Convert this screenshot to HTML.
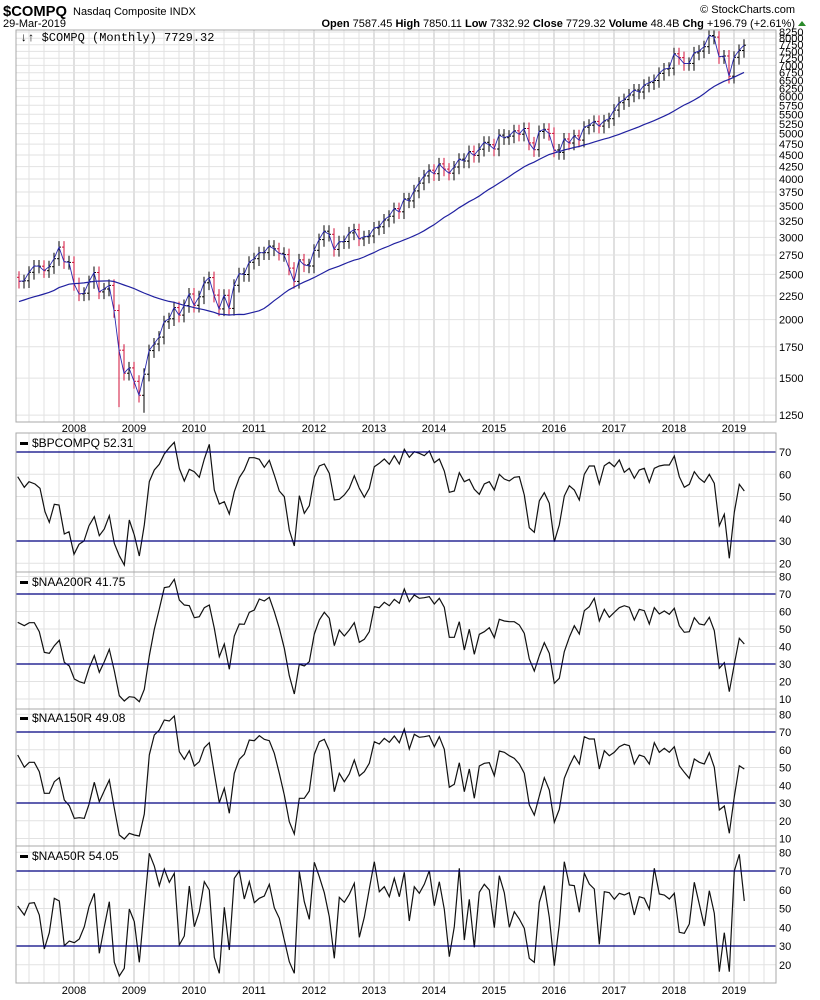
<!DOCTYPE html>
<html><head><meta charset="utf-8">
<style>
body{margin:0;background:#fff;width:820px;height:1000px;overflow:hidden;font-family:"Liberation Sans",sans-serif;}
svg{display:block}
</style></head><body>
<svg id="c" width="820" height="1000" xmlns="http://www.w3.org/2000/svg" font-family="Liberation Sans, sans-serif">
<text x="3" y="16" font-size="15" font-weight="bold" textLength="64" lengthAdjust="spacingAndGlyphs">$COMPQ</text>
<text x="73" y="15" font-size="11">Nasdaq Composite INDX</text>
<text x="3" y="27" font-size="11">29-Mar-2019</text>
<text x="795" y="13" font-size="11" text-anchor="end">© StockCharts.com</text>
<text x="795" y="27" font-size="11" text-anchor="end"><tspan font-weight="bold">Open</tspan> 7587.45 <tspan font-weight="bold">High</tspan> 7850.11 <tspan font-weight="bold">Low</tspan> 7332.92 <tspan font-weight="bold">Close</tspan> 7729.32 <tspan font-weight="bold">Volume</tspan> 48.4B <tspan font-weight="bold">Chg</tspan> +196.79 (+2.61%)</text>
<polygon points="798,26 806,26 802,21" fill="#2a8a2a"/>
<g id="g"></g>
</svg>
<script>
var g=document.getElementById('g'),h='';
function L(x1,y1,x2,y2,c,w){h+='<line x1="'+x1+'" y1="'+y1+'" x2="'+x2+'" y2="'+y2+'" stroke="'+c+'" stroke-width="'+(w||1)+'"/>';}
function T(x,y,t,s,a){h+='<text x="'+x+'" y="'+y+'" font-size="'+(s||11)+'"'+(a?' text-anchor="'+a+'"':'')+'>'+t+'</text>';}
var X0=16,X1=776;
var panels=[[30,422],[433,572],[572,709],[709,846],[846,983]];
function xi(i){return 19+i*5;}
panels.forEach(function(p){
 for(var i=0;i<146;i++){var m=(i+1)%12; if(m%3==0){L(xi(i),p[0],xi(i),p[1],(m==0)?'#c0c0c0':'#e2e2e2');}}
 for(var x=xi(146);x<X1;x+=15){L(x,p[0],x,p[1],'#e2e2e2');}
});
function yp(v){return 32+203*Math.log(8250/v);}
for(var v=1250;v<=8250;v+=250){var y=yp(v);L(X0,y,X1,y,'#e2e2e2');T(779,y+4,v,11);}
var sub=[[452,2.225,[20,30,40,50,60,70]],[594,1.75,[10,20,30,40,50,60,70,80]],[732,1.775,[10,20,30,40,50,60,70,80]],[871,1.875,[20,30,40,50,60,70,80]]];
sub.forEach(function(s,k){s[2].forEach(function(v){var y=s[0]+(70-v)*s[1];if(v!=30&&v!=70)L(X0,y,X1,y,'#e2e2e2');T(779,y+4,v,11);});});
var pre=[1897,1975,2097,2175,2062,2052,1999,1922,2068,2057,2185,2152,2152,2120,2233,2205,2306,2281,2340,2323,2179,2172,2091,2184,2258,2367,2432,2415,2464];
var d=[2416,2422,2525,2605,2603,2546,2596,2701,2859,2661,2652,
2389,2271,2279,2413,2523,2293,2326,2368,2092,1721,1536,1577,
1476,1378,1529,1717,1774,1835,1979,2009,2122,2045,2145,2269,
2147,2238,2398,2461,2257,2109,2255,2114,2369,2507,2498,2653,
2700,2782,2781,2874,2835,2774,2756,2579,2415,2684,2620,2605,
2814,2967,3092,3046,2827,2935,2940,3067,3116,2977,3010,3020,
3142,3160,3268,3329,3456,3403,3626,3590,3771,3920,4060,4177,
4104,4308,4199,4115,4243,4408,4370,4580,4493,4631,4792,4736,
4635,4964,4901,4941,5070,4987,5128,4777,4620,5054,5109,5007,
4614,4558,4870,4775,4948,4843,5162,5213,5312,5189,5324,5383,
5615,5825,5912,6048,6199,6140,6348,6429,6496,6728,6874,6903,
7411,7273,7063,7066,7442,7510,7672,8110,8046,7306,7331,6635,
7282,7533,7729];
var all=pre.concat(d),ma='',cl='';
for(var i=0;i<d.length;i++){
 var k=i+29,s=0;for(var j=k-29;j<=k;j++)s+=all[j];var m=s/30;
 ma+=(i?' ':'')+xi(i)+','+yp(m).toFixed(1);
 var c=d[i],o=all[k-1],hi=Math.max(o,c)*1.03,lo=Math.min(o,c)*0.965;
 if(i==20)lo=1300; if(i==25)lo=1265;
 var col=c<o*0.985?'#d0103a':'#000';x=xi(i);
 L(x,yp(hi).toFixed(1),x,yp(lo).toFixed(1),col);L(x-2,yp(o).toFixed(1),x,yp(o).toFixed(1),col);L(x,yp(c).toFixed(1),x+2,yp(c).toFixed(1),col);
 cl+=(i?' ':'')+x+','+yp(c).toFixed(1);
}
h+='<polyline points="'+ma+'" fill="none" stroke="#2020a0" stroke-width="1.2"/>';
h+='<polyline points="'+cl+'" fill="none" stroke="#2a2ab0" stroke-width="0.9"/>';
function P(a,ox,oy){var s='';for(var i=0;i<a.length;i+=2){s+=(ox+a[i]/3).toFixed(1)+','+(oy+a[i+1]/3).toFixed(1)+' ';}return s;}
function line(a1,o1,a2,o2){h+='<polyline points="'+P(a1,o1[0],o1[1])+P(a2,o2[0],o2[1])+'" fill="none" stroke="#111" stroke-width="1.2"/>';}
var bp1=[8,125,28,157,42,140,60,147,75,160,90,230,103,262,118,208,132,210,148,297,162,290,177,358,192,328,207,318,222,272,238,245,253,302,268,282,283,242,298,325,313,362,328,390,343,255,358,300,373,363,388,270,403,140,418,105,433,88,448,57,463,38,478,22,493,100,508,138,523,103,538,110,553,127,568,72,583,28,598,165,613,207,628,200,643,237,658,170,673,128,688,105,703,68,718,68,733,73,748,97,763,76,778,120,793,168,808,185,823,285,838,333,853,182,868,235,883,212,898,127,913,93,928,87,943,115,958,195,973,193,988,180,1003,160,1018,122,1033,160,1048,187,1063,160,1078,95,1093,85,1108,72,1123,88];
var bp2=[13,62,28,87,43,43,58,67,73,50,88,55,103,62,118,48,133,83,148,72,163,108,178,172,193,168,208,113,223,140,238,133,253,163,268,178,283,147,298,140,313,165,328,118,343,132,358,138,373,127,388,125,403,180,418,278,433,292,448,198,463,173,478,205,493,320,508,270,523,183,538,152,553,165,568,195,583,118,598,93,613,93,628,147,643,92,658,82,673,95,688,75,703,112,718,100,733,130,748,105,763,100,778,142,793,100,808,93,823,90,838,90,853,63,868,125,883,157,898,148,913,110,928,130,943,142,958,118,973,145,988,272,1003,238,1018,370,1033,232,1048,148,1063,168];
var n2a=[8,562,28,572,43,563,58,563,73,590,88,652,103,655,118,632,133,616,148,682,163,693,178,732,193,740,208,745,222,700,238,662,253,712,268,680,283,643,298,707,313,782,328,798,343,785,358,787,373,800,388,763,403,663,418,583,433,522,448,458,463,455,478,433,493,495,508,510,523,512,538,548,553,545,568,518,583,510,598,580,613,665,628,627,643,703,658,603,673,567,688,568,703,532,718,525,733,492,748,498,763,487,778,530,793,580,808,640,823,722,838,777,853,688,868,693,883,680,898,597,913,555,928,532,943,550,958,632,973,585,988,603,1003,585,1018,563,1033,622,1048,613,1063,590,1078,515,1093,518,1108,502,1123,512];
var n2b=[13,493,28,505,43,462,58,500,73,480,88,490,103,488,118,485,133,507,148,490,163,517,178,607,193,607,208,560,223,645,238,583,253,658,268,598,283,590,298,578,313,608,328,553,343,558,358,560,373,560,388,570,403,595,418,672,433,708,448,662,463,623,478,655,493,745,508,730,523,650,538,607,553,572,568,597,583,527,598,515,613,490,628,558,643,523,658,547,673,532,688,518,703,512,718,517,733,555,748,523,763,527,778,567,793,518,808,537,823,528,838,538,853,520,868,572,883,592,898,590,913,548,928,567,943,570,958,547,973,587,988,700,1003,683,1018,770,1033,688,1048,610,1063,627];
var n1a=[8,135,28,172,43,157,58,157,73,185,88,250,103,250,118,215,133,203,148,270,163,287,178,325,193,323,208,325,222,283,238,217,253,275,268,242,283,210,298,295,313,375,328,387,343,370,358,375,373,378,388,312,403,135,418,75,433,60,448,30,463,33,478,18,493,125,508,148,523,122,538,168,553,155,568,113,583,98,598,190,613,278,628,235,643,310,658,190,673,148,688,133,703,90,718,92,733,77,748,88,763,92,778,130,793,190,808,255,823,335,838,372,853,265,868,265,883,243,898,133,913,95,928,88,943,122,958,245,973,190,988,215,1003,192,1018,150,1033,198,1048,185,1063,160,1078,95,1093,102,1108,85,1123,97];
var n1b=[13,78,28,98,43,57,58,117,73,73,88,82,103,80,118,77,133,110,148,80,163,118,178,232,193,223,208,158,223,245,238,177,253,265,268,168,283,160,298,158,313,197,328,123,343,127,358,137,373,145,388,162,403,190,418,285,433,315,448,258,463,203,478,240,493,337,508,298,523,205,538,168,553,137,568,162,583,80,598,87,613,87,628,177,643,122,658,137,673,127,688,110,703,103,718,107,733,162,748,135,763,140,778,162,793,98,808,127,823,115,838,127,853,110,868,167,883,187,898,205,913,147,928,157,943,162,958,128,973,172,988,300,1003,288,1018,370,1033,260,1048,167,1063,177];
var n5a=[8,588,28,615,43,580,58,578,73,615,88,717,103,668,118,565,133,573,148,707,163,693,178,698,193,687,208,650,222,590,238,550,253,730,268,650,283,575,298,757,313,798,328,775,343,597,358,635,373,757,388,593,403,430,418,468,433,527,448,477,463,517,478,490,493,705,508,678,523,528,538,650,553,605,568,515,583,540,598,742,613,790,628,592,643,720,658,505,673,483,688,567,703,515,718,578,733,565,748,558,763,523,778,593,793,625,808,690,823,755,838,790,853,485,868,575,883,628,898,457,913,500,928,548,943,620,958,745,973,562,988,577,1003,553,1018,520,1033,682,1048,622,1063,537,1078,455,1093,545,1108,530,1123,560];
var n5b=[13,505,28,560,43,487,58,633,73,530,88,550,103,523,118,482,133,587,148,515,163,598,178,740,193,650,208,475,223,690,238,568,253,712,268,547,283,523,298,540,313,653,328,497,343,548,358,652,373,605,388,627,403,655,418,745,433,757,448,577,463,527,478,622,493,767,508,643,523,455,538,525,553,527,568,607,583,490,598,522,613,537,628,703,643,545,658,548,673,568,688,550,703,555,718,548,733,615,748,560,763,565,778,598,793,475,808,552,823,555,838,567,853,550,868,667,883,670,898,642,913,517,928,583,943,648,958,542,973,610,988,785,1003,668,1018,785,1033,483,1048,433,1063,573];
line(bp1,[15,435],bp2,[390,435]);
line(n2a,[15,435],n2b,[390,435]);
line(n1a,[15,710],n1b,[390,710]);
line(n5a,[15,710],n5b,[390,710]);
sub.forEach(function(s){[30,70].forEach(function(v){var y=s[0]+(70-v)*s[1];L(X0,y,X1,y,'#000080',1.2);});});
panels.forEach(function(p){h+='<rect x="'+X0+'" y="'+p[0]+'" width="'+(X1-X0)+'" height="'+(p[1]-p[0])+'" fill="none" stroke="#a8a8a8"/>';});
var yrs=['2008','2009','2010','2011','2012','2013','2014','2015','2016','2017','2018','2019'];
yrs.forEach(function(t,k){var x=74+k*60;T(x,432,t,11,'middle');T(x,994,t,11,'middle');});
function lab(y,t){h+='<rect x="20" y="'+(y-5)+'" width="8" height="3" fill="#000"/>';T(32,y,t,12);}
h+='<text x="20" y="41" font-size="12" font-family="Liberation Mono, monospace">↓↑ $COMPQ (Monthly) 7729.32</text>';
lab(447,'$BPCOMPQ 52.31');lab(586,'$NAA200R 41.75');lab(722,'$NAA150R 49.08');lab(860,'$NAA50R 54.05');
g.innerHTML=h;
</script>
</body></html>
